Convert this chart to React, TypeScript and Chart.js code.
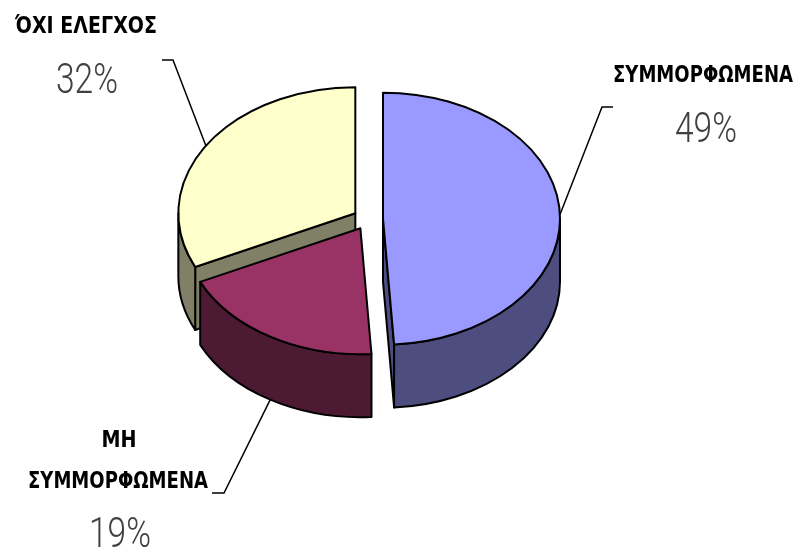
import React, { useEffect, useRef } from "react";
import { Chart, registerables } from "chart.js";

Chart.register(...registerables);

// ---- data ----
const categories = ["ΣΥΜΜΟΡΦΩΜΕΝΑ", "ΜΗ ΣΥΜΜΟΡΦΩΜΕΝΑ", "ΌΧΙ ΕΛΕΓΧΟΣ"];
const values = [49, 19, 32];

// ---- styles ----
const topColors = ["#9999FF", "#993366", "#FFFFCC"];
const sideColors = ["#4D4D80", "#4D1A33", "#808066"];

const TILT = 0.712;
const DEPTH = 63;
const EXPLODE = 15;
const RADIUS = 177;

// leader line elbows and label placement (layout only)
const leaderLayout = [
  { z: 0, pts: [[602, 107], [613, 107]] },
  { z: DEPTH, pts: [[224, 493], [212, 493]] },
  { z: 0, pts: [[173, 60], [162, 60]] },
];
const labelLayout = [
  { wrap: false, x: [703], base: [82], w: [180], px: 706, pbase: 142 },
  { wrap: true, x: [119, 118], base: [447, 488], w: [35, 180], px: 120, pbase: 547 },
  { wrap: false, x: [86], base: [33], w: [142], px: 87, pbase: 93 },
];

function getGeo(chart: any) {
  const arcs = chart.getDatasetMeta(0).data as any[];
  return arcs.map((arc: any, i: number) => {
    const p = arc.getProps(["x", "y", "startAngle", "endAngle", "outerRadius"], true);
    const mid = (p.startAngle + p.endAngle) / 2;
    const d = arc.options.offset || 0;
    return {
      i,
      cx: p.x + Math.cos(mid) * d,
      cy: p.y + TILT * Math.sin(mid) * d,
      s: p.startAngle,
      e: p.endAngle,
      r: p.outerRadius,
      mid,
    };
  });
}

const pie3d = {
  id: "pie3d",
  beforeDatasetsDraw(chart: any) {
    const ctx = chart.ctx as CanvasRenderingContext2D;
    const geo = getGeo(chart);
    const order = [...geo].sort((a, b) => Math.sin(a.mid) - Math.sin(b.mid));
    ctx.save();
    ctx.lineWidth = 2;
    ctx.lineJoin = "round";
    ctx.strokeStyle = "#000";
    for (const g of order) {
      const ry = TILT * g.r;
      const pt = (t: number, dz: number) => [g.cx + g.r * Math.cos(t), g.cy + ry * Math.sin(t) + dz];
      const wall = (t: number) => {
        const a = pt(t, 0);
        const b = pt(t, DEPTH);
        ctx.beginPath();
        ctx.moveTo(g.cx, g.cy);
        ctx.lineTo(a[0], a[1]);
        ctx.lineTo(b[0], b[1]);
        ctx.lineTo(g.cx, g.cy + DEPTH);
        ctx.closePath();
        ctx.fillStyle = sideColors[g.i];
        ctx.fill();
        ctx.stroke();
      };
      if (Math.cos(g.s) < -1e-6) wall(g.s);
      if (Math.cos(g.e) > 1e-6) wall(g.e);
      const a1 = Math.max(g.s, 0);
      const a2 = Math.min(g.e, Math.PI);
      if (a2 > a1) {
        ctx.beginPath();
        ctx.ellipse(g.cx, g.cy, g.r, ry, 0, a1, a2, false);
        ctx.ellipse(g.cx, g.cy + DEPTH, g.r, ry, 0, a2, a1, true);
        ctx.closePath();
        ctx.fillStyle = sideColors[g.i];
        ctx.fill();
        ctx.stroke();
      }
      ctx.beginPath();
      ctx.moveTo(g.cx, g.cy);
      ctx.ellipse(g.cx, g.cy, g.r, ry, 0, g.s, g.e, false);
      ctx.closePath();
      ctx.fillStyle = topColors[g.i];
      ctx.fill();
      ctx.stroke();
    }
    ctx.restore();
    return false;
  },
  afterDraw(chart: any) {
    const ctx = chart.ctx as CanvasRenderingContext2D;
    const geo = getGeo(chart);
    const total = values.reduce((a, b) => a + b, 0);
    ctx.save();
    // leader lines
    ctx.strokeStyle = "#000";
    ctx.lineWidth = 1.5;
    geo.forEach((g: any) => {
      const L = leaderLayout[g.i];
      const ax = g.cx + g.r * Math.cos(g.mid);
      const ay = g.cy + TILT * g.r * Math.sin(g.mid) + L.z;
      ctx.beginPath();
      ctx.moveTo(ax, ay);
      L.pts.forEach((p) => ctx.lineTo(p[0], p[1]));
      ctx.stroke();
    });
    // names
    ctx.font = 'bold 23px "DejaVu Sans"';
    ctx.textAlign = "center";
    ctx.textBaseline = "alphabetic";
    ctx.fillStyle = "#000";
    geo.forEach((g: any) => {
      const lay = labelLayout[g.i];
      const name = categories[g.i];
      const lines = lay.wrap ? [name.slice(0, name.indexOf(" ")), name.slice(name.indexOf(" ") + 1)] : [name];
      lines.forEach((ln, k) => {
        const sx = Math.min(1.05, lay.w[k] / ctx.measureText(ln).width);
        ctx.save();
        ctx.translate(lay.x[k], lay.base[k]);
        ctx.scale(sx, 1);
        ctx.fillText(ln, 0, 0);
        ctx.restore();
      });
    });
    // percentages
    ctx.font = '300 42px Roboto';
    const psx = 62 / ctx.measureText("49%").width;
    ctx.fillStyle = "#404040";
    geo.forEach((g: any) => {
      const lay = labelLayout[g.i];
      const txt = Math.round((values[g.i] / total) * 100) + "%";
      ctx.save();
      ctx.translate(lay.px, lay.pbase);
      ctx.scale(psx, 1);
      ctx.fillText(txt, 0, 0);
      ctx.restore();
    });
    ctx.restore();
  },
};

export default function App() {
  const ref = useRef<HTMLCanvasElement>(null);
  useEffect(() => {
    const chart = new Chart(ref.current as HTMLCanvasElement, {
      type: "pie",
      data: {
        labels: categories,
        datasets: [
          {
            data: values,
            backgroundColor: topColors,
            borderColor: "#000",
            borderWidth: 2,
            offset: EXPLODE,
            radius: RADIUS,
          } as any,
        ],
      },
      options: {
        responsive: false,
        animation: false,
        layout: { padding: { left: 0, right: 62, top: 0, bottom: 112 } },
        plugins: { legend: { display: false }, tooltip: { enabled: false } },
      },
      plugins: [pie3d as any],
    });
    return () => chart.destroy();
  }, []);
  return (
    <div style={{ position: "absolute", left: 0, top: 0, width: 798, height: 550, background: "#fff" }}>
      <canvas ref={ref} width={798} height={550} />
    </div>
  );
}
